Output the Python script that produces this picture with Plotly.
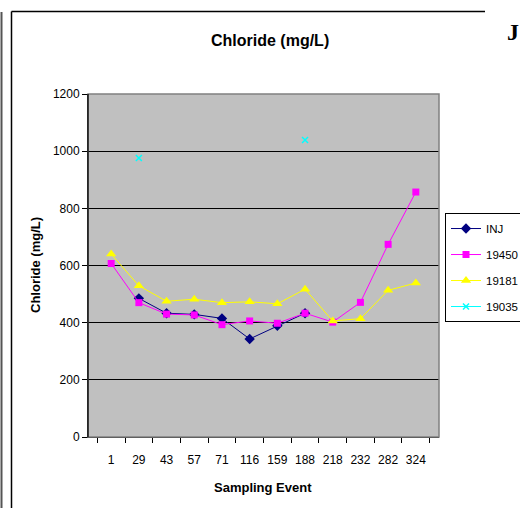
import plotly.graph_objects as go

events = ["1", "29", "43", "57", "71", "116", "159", "188", "218", "232", "282", "324"]
inj = [None, 485, 433, 429, 415, 343, 389, 433, None, None, None, None]
w19450 = [607, 470, 430, 427, 393, 406, 398, 433, 402, 471, 674, 857]
w19181 = [640, 529, 475, 482, 470, 473, 466, 517, 406, 414, 513, 539]
w19035 = [None, 976, None, None, None, None, None, 1039, None, None, None, None]

FONT = "Liberation Sans, Arial, sans-serif"

fig = go.Figure()
fig.add_trace(go.Scatter(x=events, y=inj, name="INJ", mode="lines+markers",
                         line=dict(color="#000080", width=1),
                         marker=dict(symbol="diamond", size=8, color="#000080"),
                         legendgroup="a"))
fig.add_trace(go.Scatter(x=events, y=w19450, name="19450", mode="lines+markers",
                         line=dict(color="#FF00FF", width=1),
                         marker=dict(symbol="square", size=7, color="#FF00FF"),
                         legendgroup="b"))
fig.add_trace(go.Scatter(x=events, y=w19181, name="19181", mode="lines+markers",
                         line=dict(color="#FFFF00", width=1),
                         marker=dict(symbol="triangle-up", size=9, color="#FFFF00"),
                         legendgroup="c"))
fig.add_trace(go.Scatter(x=events, y=w19035, name="19035", mode="lines+markers",
                         line=dict(color="#00FFFF", width=1),
                         marker=dict(symbol="x-thin", size=6, color="#00FFFF",
                                     line=dict(color="#00FFFF", width=1.5)),
                         legendgroup="d"))

def px(xp):
    return (xp - 88) / 351.0
def py(yp):
    return (437 - yp) / 343.0

fig.update_layout(
    width=520, height=508,
    margin=dict(l=88, r=81, t=94, b=71, autoexpand=False),
    paper_bgcolor="white", plot_bgcolor="#C0C0C0",
    font=dict(family=FONT, size=12, color="black"),
    showlegend=True,
    legend=dict(x=px(445), xanchor="left", y=0.653, yanchor="top",
                bordercolor="black", borderwidth=1, bgcolor="white",
                font=dict(family=FONT, size=11.5, color="black"),
                itemwidth=30, tracegroupgap=7),
    xaxis=dict(type="category", tickson="boundaries", ticks="outside", ticklen=5,
               tickcolor="black", showgrid=False, showline=True, linecolor="black",
               linewidth=1, tickfont=dict(size=12), tickangle=0, automargin=False,
               ticklabelstandoff=12),
    yaxis=dict(range=[0, 1200], tick0=0, dtick=200, ticks="outside", ticklen=5,
               tickcolor="black", showgrid=True, gridcolor="black", gridwidth=1,
               showline=True, linecolor="black", linewidth=1, zeroline=False,
               tickfont=dict(size=12), automargin=False),
)

fig.add_shape(type="rect", xref="paper", yref="paper", x0=0, x1=1, y0=0, y1=1,
              line=dict(color="#808080", width=1.5), layer="above")
fig.add_shape(type="line", xref="paper", yref="paper", x0=0, x1=0, y0=0, y1=1,
              line=dict(color="black", width=1.2), layer="above")

fig.add_shape(type="line", xref="paper", yref="paper", x0=px(11.5), x1=px(485),
              y0=py(11.5), y1=py(11.5), line=dict(color="black", width=1.5))
fig.add_shape(type="line", xref="paper", yref="paper", x0=px(11.5), x1=px(11.5),
              y0=py(11.5), y1=py(510), line=dict(color="black", width=1.5))
fig.add_shape(type="line", xref="paper", yref="paper", x0=px(1.5), x1=px(1.5),
              y0=py(12), y1=py(510), line=dict(color="#555555", width=2))

fig.add_annotation(text="<b>Chloride (mg/L)</b>", xref="paper", yref="paper",
                   x=px(270), y=py(40), xanchor="center", yanchor="middle",
                   showarrow=False, font=dict(family=FONT, size=16, color="black"))
fig.add_annotation(text="<b>Chloride (mg/L)</b>", xref="paper", yref="paper",
                   x=px(35), y=py(265), xanchor="center", yanchor="middle",
                   textangle=-90, showarrow=False,
                   font=dict(family=FONT, size=13, color="black"))
fig.add_annotation(text="<b>Sampling Event</b>", xref="paper", yref="paper",
                   x=px(263), y=py(488), xanchor="center", yanchor="middle",
                   showarrow=False, font=dict(family=FONT, size=13, color="black"))
fig.add_annotation(text="<b>J</b>", xref="paper", yref="paper",
                   x=px(505), y=py(32), xanchor="left", yanchor="middle",
                   showarrow=False,
                   font=dict(family="Liberation Serif, Times New Roman, serif", size=24,
                             color="black"))

fig.write_html("out.html")
